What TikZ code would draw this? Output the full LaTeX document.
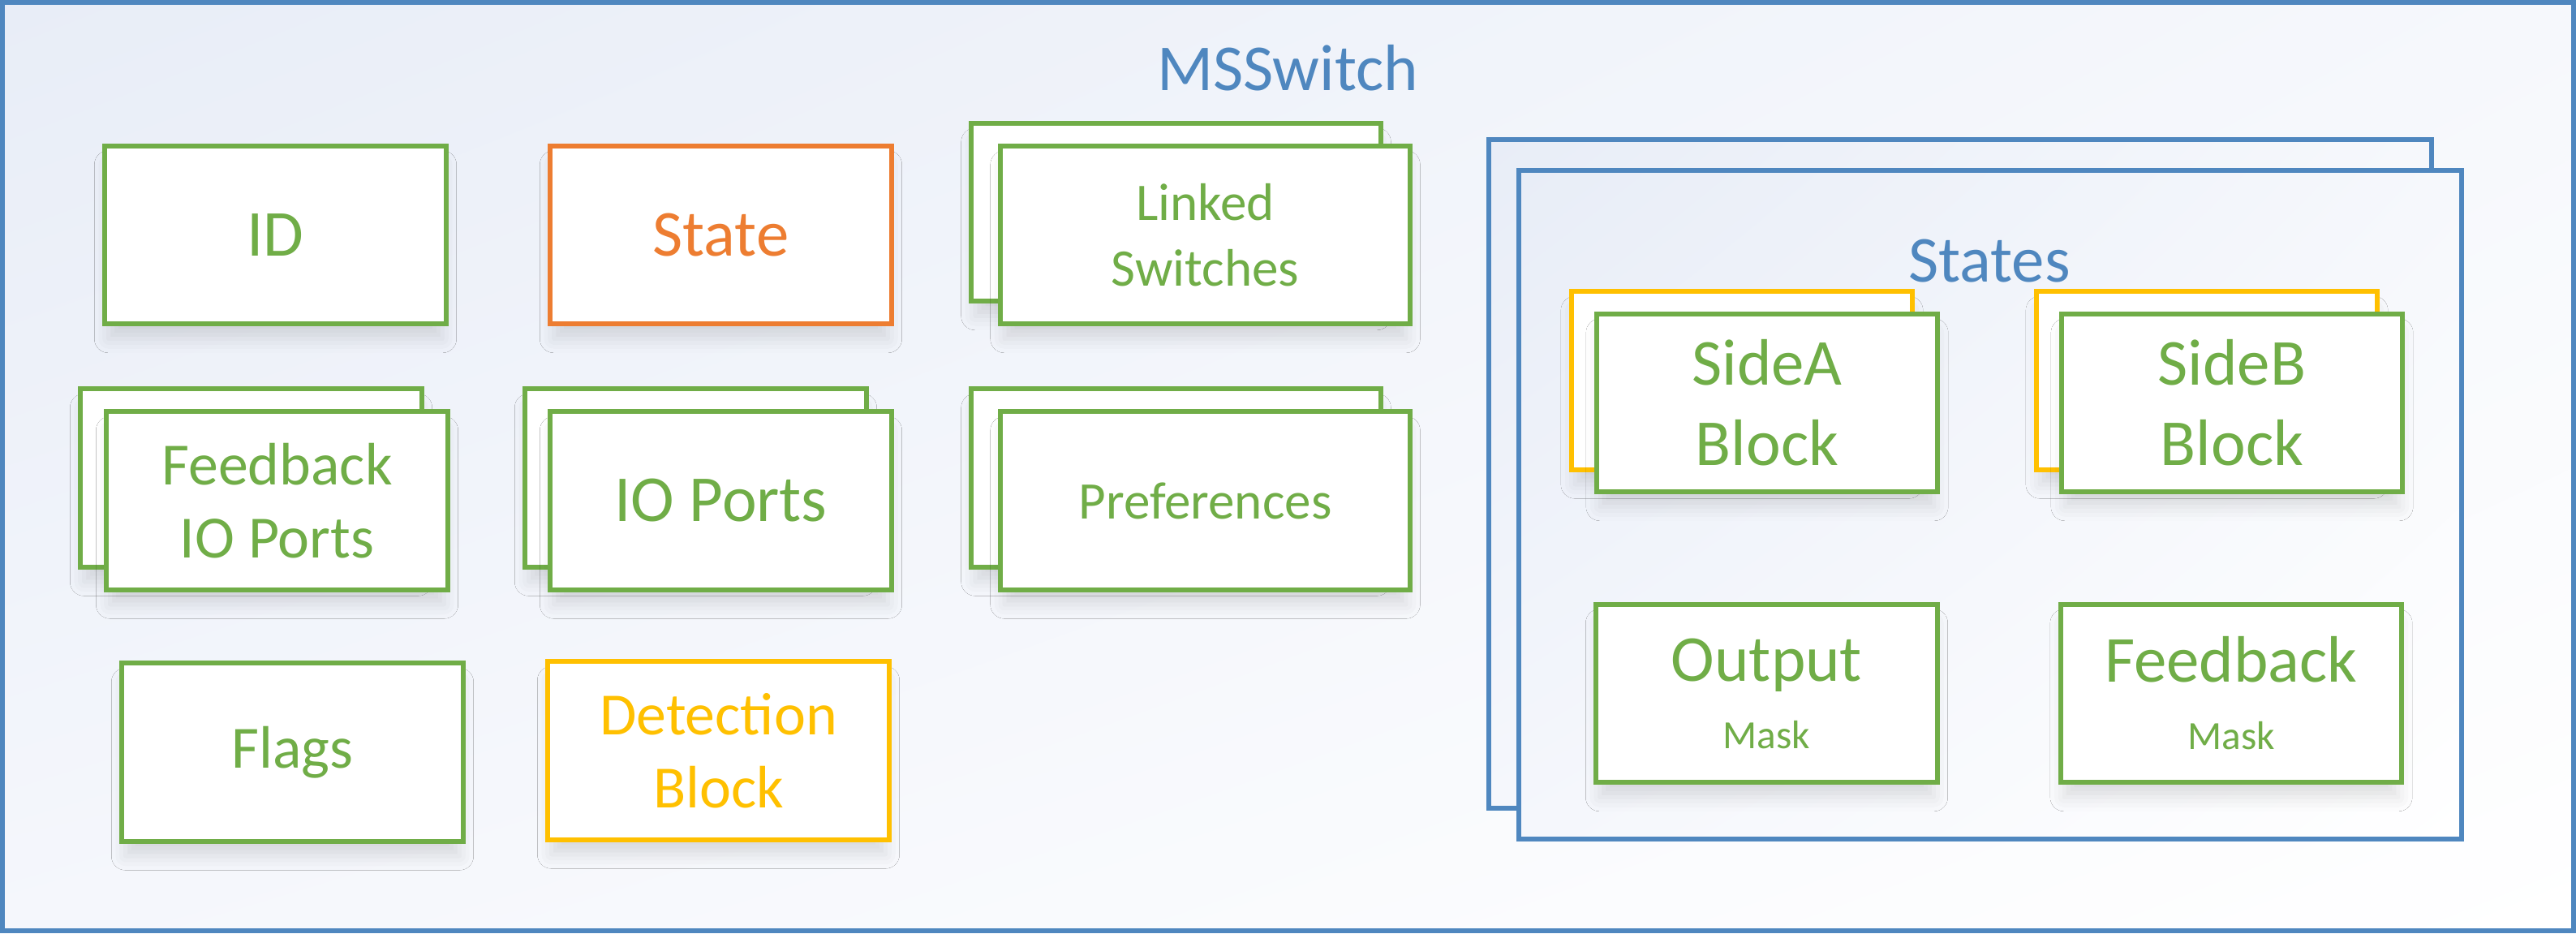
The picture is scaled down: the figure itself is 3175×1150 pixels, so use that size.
\documentclass[tikz,border=0pt]{standalone}
\usepackage{fontspec}
\setmainfont{Carlito}
\usepackage{xcolor}
\usepackage{tikz}
\usetikzlibrary{shadings}
\usetikzlibrary{shadows.blur}

\definecolor{boxgreen}{HTML}{70AD47}
\definecolor{boxorange}{HTML}{ED7D31}
\definecolor{boxgold}{HTML}{FFC000}
\definecolor{frameblue}{HTML}{4F87BF}
\definecolor{bgtl}{HTML}{E8EDF7}
\definecolor{bgtr}{HTML}{F6F8FC}
\definecolor{bgbl}{HTML}{F5F7FC}

\newcommand\bigtxt{\fontsize{23}{28}\selectfont}
\newcommand\midtxt{\fontsize{21}{25.6}\selectfont}
\newcommand\smalltxt{\fontsize{18.5}{23}\selectfont}
\newcommand\masktxt{\fontsize{14}{17}\selectfont}

\begin{document}
\begin{tikzpicture}[
  x=0.01cm, y=-0.01cm,
  gbox/.style={draw=boxgreen, fill=white, line width=1.7pt, text=boxgreen,
    minimum width=4.2cm, minimum height=2.19cm, inner sep=0pt, align=center,
    blur shadow={shadow xshift=0pt, shadow yshift=-6pt, shadow blur radius=5pt,
      shadow opacity=12, shadow scale=0.98}},
  wbox/.style={gbox, minimum width=5.05cm},
  obox/.style={gbox, draw=boxorange, text=boxorange},
  ybox/.style={gbox, draw=boxgold, text=boxgold},
  sbox/.style={draw=frameblue, line width=1.7pt, minimum width=11.62cm,
    minimum height=8.24cm, shade, upper left=bgtl, upper right=bgtr,
    lower left=bgbl, lower right=white},
  title/.style={text=frameblue, font=\bigtxt, anchor=base}
]

\useasboundingbox (0,0) rectangle (3175,1150);
\draw [frameblue, line width=1.7pt, upper left=bgtl, upper right=bgtr,
  lower left=bgbl, lower right=white] (3,3) rectangle (3172,1147);

\node [title] (msswitch) at (1587,111) {MSSwitch};

% first row
\node [gbox, font=\bigtxt] (id) at (339.5,289.5) {ID};
\node [obox, font=\bigtxt] (state) at (888.5,289.5) {State};
\node [wbox] (linkedb) at (1449.5,261.5) {};
\node [wbox, font=\smalltxt] (linked) at (1485.5,289.5) {Linked\\Switches};

% second row
\node [gbox] (fbportsb) at (309.5,589) {};
\node [gbox, font=\midtxt] (fbports) at (341.5,617) {Feedback\\IO Ports};
\node [gbox] (ioportsb) at (857.5,589) {};
\node [gbox, font=\bigtxt] (ioports) at (888.5,617) {IO Ports};
\node [wbox] (prefsb) at (1449.5,589) {};
\node [wbox, font=\smalltxt] (prefs) at (1485.5,617) {Preferences};

% third row
\node [gbox, font=\midtxt] (flags) at (360.5,927) {Flags};
\node [ybox, font=\midtxt] (detect) at (885.5,925) {Detection\\Block};

% states
\node [sbox] (statesb) at (2416,584) {};
\node [sbox] (states) at (2453,622) {};
\node [title] (stlabel) at (2452,347) {States};

\node [ybox] (sideab) at (2147,469) {};
\node [gbox, font=\fontsize{23}{28.2}\selectfont] (sidea) at (2178,496.5) {SideA\\Block};
\node [ybox] (sidebb) at (2720,469) {};
\node [gbox, font=\fontsize{23}{28.2}\selectfont] (sideb) at (2751,496.5) {SideB\\Block};

\node [gbox, font=\bigtxt] (outmask) at (2177.5,854.5) {Output\\[-4.4pt]{\masktxt Mask}};
\node [gbox, font=\bigtxt] (fbmask) at (2750,854.5) {Feedback\\[-4.4pt]{\masktxt Mask}};

\end{tikzpicture}
\end{document}
